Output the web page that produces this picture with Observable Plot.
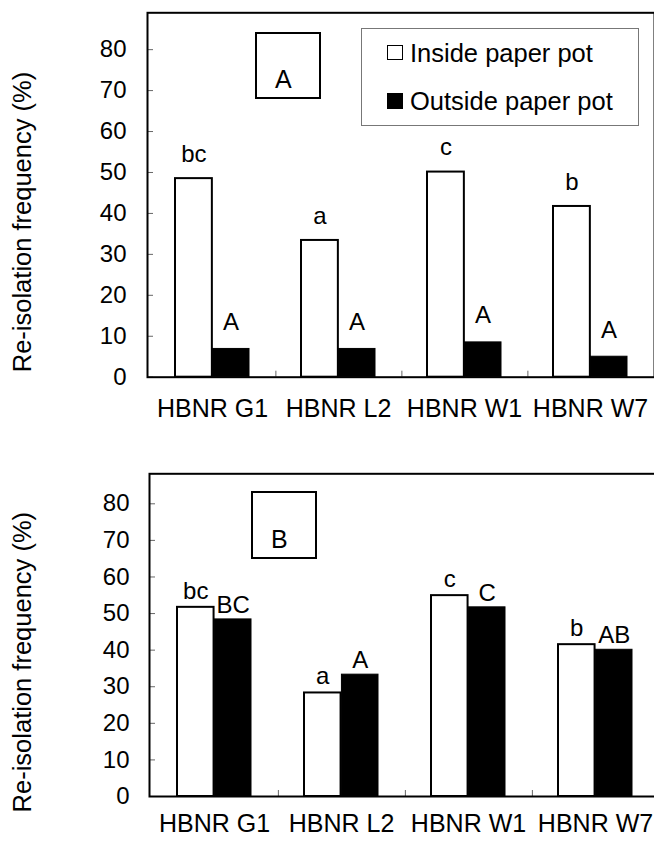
<!DOCTYPE html>
<html>
<head>
<meta charset="utf-8">
<script src="https://cdn.jsdelivr.net/npm/d3@7"></script>
<script src="https://cdn.jsdelivr.net/npm/@observablehq/plot@0.6"></script>
<style>
  html, body { margin: 0; padding: 0; background: #fff; }
  body { position: relative; width: 654px; height: 846px; overflow: hidden; font-family: "Liberation Sans", Arial, sans-serif; color: #000; }
  .panel { position: absolute; left: 0; }
  .abs { position: absolute; white-space: nowrap; font-size: 25px; line-height: normal; }
  .box { position: absolute; border: 2px solid #000; box-sizing: border-box; background: #fff; }
  .legend { position: absolute; border: 1px solid #777; box-sizing: border-box; background: #fff; }
  .sw { position: absolute; box-sizing: border-box; border: 1.5px solid #000; }
</style>
</head>
<body>
<div id="pa" class="panel" style="top:0"></div>
<div id="pb" class="panel" style="top:430px"></div>

<div class="box" style="left:255px;top:32px;width:66px;height:67px"></div>
<div class="abs" style="left:275px;top:65px">A</div>

<div class="legend" style="left:361px;top:28px;width:278px;height:98px"></div>
<div class="sw" style="left:387px;top:45px;width:16px;height:15px;background:#fff"></div>
<div class="abs" id="leg1" style="left:410px;top:39px;font-size:25.5px"></div>
<div class="sw" style="left:387px;top:93px;width:16px;height:16px;background:#000"></div>
<div class="abs" id="leg2" style="left:410px;top:87px;font-size:25.5px"></div>

<div class="box" style="left:251px;top:491px;width:66px;height:68px"></div>
<div class="abs" style="left:271px;top:525px">B</div>

<script>
// ---- data ----
const categories = ["HBNR G1", "HBNR L2", "HBNR W1", "HBNR W7"];
const seriesNames = ["Inside paper pot", "Outside paper pot"];
const yTicks = [0, 10, 20, 30, 40, 50, 60, 70, 80];
const yLabel = "Re-isolation frequency (%)";

// Panel A
const insideA = [48.5, 33.4, 50.1, 41.7];
const outsideA = [6.9, 6.9, 8.5, 5.0];
const lettersInsideA = ["bc", "a", "c", "b"];
const lettersOutsideA = ["A", "A", "A", "A"];

// Panel B
const insideB = [51.7, 28.3, 54.9, 41.5];
const outsideB = [48.4, 33.3, 51.7, 40.1];
const lettersInsideB = ["bc", "a", "c", "b"];
const lettersOutsideB = ["BC", "A", "C", "AB"];

document.getElementById("leg1").textContent = seriesNames[0];
document.getElementById("leg2").textContent = seriesNames[1];

const FONT = "'Liberation Sans', Arial, sans-serif";
const PI = 0.414;

function panel(o) {
  const rows = categories.map((c, i) => ({
    category: c, inside: o.inside[i], outside: o.outside[i],
    li: o.lettersIn[i], lo: o.lettersOut[i]
  }));
  const step = (o.width - o.marginLeft) / categories.length;
  const bw = step * (1 - PI);
  const half = bw / 2;
  return Plot.plot({
    width: o.width,
    height: o.height,
    marginTop: o.marginTop,
    marginBottom: o.marginBottom,
    marginLeft: o.marginLeft,
    marginRight: 0,
    style: { fontFamily: FONT, fontSize: "24px", maxWidth: "none", background: "#fff", color: "#000" },
    x: { type: "band", domain: categories, paddingInner: PI, paddingOuter: PI / 2, label: null },
    y: { domain: [0, o.yMax], label: null },
    marks: [
      Plot.barY(rows, { x: "category", y: "inside", insetRight: half, fill: "#fff", stroke: "#000", strokeWidth: 2 }),
      Plot.barY(rows, { x: "category", y: "outside", insetLeft: half, fill: "#000", stroke: "#000", strokeWidth: 1 }),
      Plot.text(rows, { x: "category", y: "inside", text: "li", dx: -half / 2, dy: -o.inDy, lineAnchor: "bottom", fontSize: 24, fill: "#000" }),
      Plot.text(rows, { x: "category", y: "outside", text: "lo", dx: half / 2, dy: -o.outDy, lineAnchor: "bottom", fontSize: 24, fill: "#000" }),
      Plot.axisY({ ticks: yTicks, tickSize: -6, tickPadding: o.tickPad + 6, fontSize: 24, stroke: "#666", strokeWidth: 1, label: null, fill: "#000" }),
      Plot.axisX({ tickSize: 0, tickPadding: o.xPad, fontSize: 25, label: null, fill: "#000" }),
      Plot.axisX(categories.slice(0, categories.length - 1), { tickSize: -6, dx: step / 2, tickFormat: () => "", stroke: "#666", strokeWidth: 1, label: null }),
      Plot.text([yLabel], { frameAnchor: "left", rotate: -90, dx: -(o.marginLeft - 30), dy: 27, textAnchor: "middle", lineAnchor: "bottom", fontSize: 25.5, fill: "#000" }),
      Plot.frame({ stroke: "#000", strokeWidth: 2 })
    ]
  });
}

document.getElementById("pa").append(panel({
  inside: insideA, outside: outsideA, lettersIn: lettersInsideA, lettersOut: lettersOutsideA,
  width: 654, height: 430, marginTop: 12.3, marginBottom: 53.3, marginLeft: 147,
  yMax: 89, inDy: 16.7, outDy: 19, tickPad: 21, xPad: 22
}));

document.getElementById("pb").append(panel({
  inside: insideB, outside: outsideB, lettersIn: lettersInsideB, lettersOut: lettersOutsideB,
  width: 660, height: 416, marginTop: 43.3, marginBottom: 50, marginLeft: 149,
  yMax: 88.2, inDy: 8.6, outDy: 6.4, tickPad: 20, xPad: 17.5
}));
</script>
</body>
</html>
